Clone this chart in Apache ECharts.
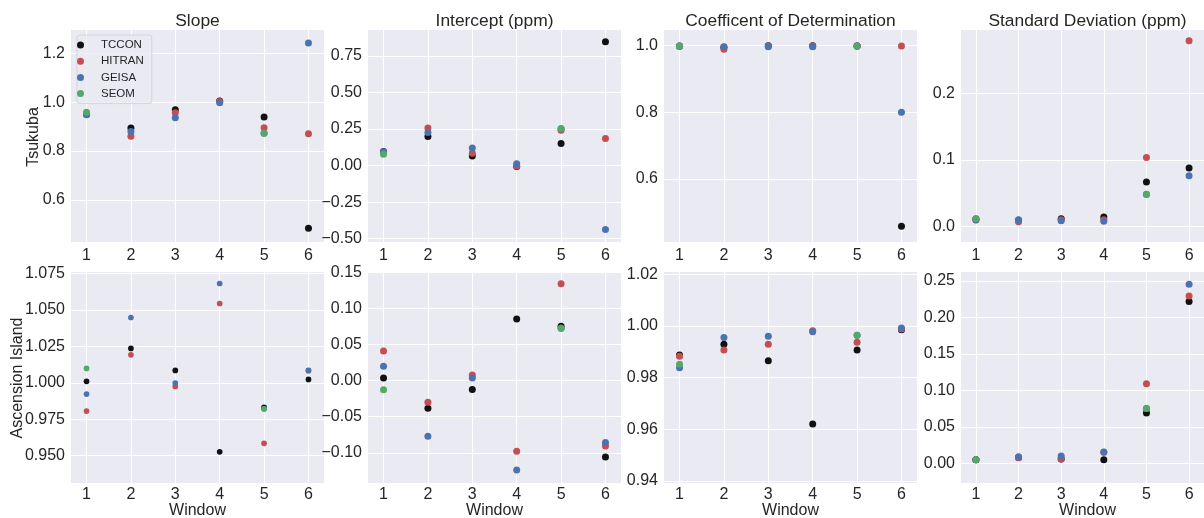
<!DOCTYPE html>
<html><head><meta charset="utf-8">
<script src="https://cdn.jsdelivr.net/npm/echarts@6/dist/echarts.min.js"></script>
<style>html,body{margin:0;padding:0;background:#fff}#c{width:1204px;height:518px}</style>
</head><body><div id="c"></div><script>
const windows = [1, 2, 3, 4, 5, 6];
const seriesNames = ['TCCON', 'HITRAN', 'GEISA', 'SEOM'];
const seriesColors = ['#111111', '#C44E52', '#4C72B0', '#55A868'];
const panelTitles = ['Slope', 'Intercept (ppm)', 'Coefficent of Determination', 'Standard Deviation (ppm)'];
const rowLabels = ['Tsukuba', 'Ascension Island'];
const xAxisLabel = 'Window';

// Tsukuba
const tsuSlopeTCCON  = [0.950, 0.894, 0.969, 1.005, 0.939, 0.484];
const tsuSlopeHITRAN = [0.951, 0.860, 0.957, 1.003, 0.895, 0.871];
const tsuSlopeGEISA  = [0.948, 0.880, 0.936, 0.997, 0.873, 1.242];
const tsuSlopeSEOM   = [0.959, null, null, null, 0.873, null];
const tsuSlopeTicks  = [0.6, 0.8, 1.0, 1.2];

const tsuIntTCCON  = [0.096, 0.199, 0.066, -0.007, 0.151, 0.847];
const tsuIntHITRAN = [0.090, 0.258, 0.085, -0.003, 0.242, 0.185];
const tsuIntGEISA  = [0.095, 0.226, 0.121, 0.012, 0.250, -0.438];
const tsuIntSEOM   = [0.078, null, null, null, 0.253, null];
const tsuIntTicks  = [-0.5, -0.25, 0, 0.25, 0.5, 0.75];

const tsuR2TCCON  = [0.999, 0.995, 1.000, 1.000, 0.999, 0.457];
const tsuR2HITRAN = [0.998, 0.989, 0.999, 0.999, 0.999, 0.999];
const tsuR2GEISA  = [0.998, 0.997, 0.997, 0.997, 0.999, 0.800];
const tsuR2SEOM   = [0.998, null, null, null, 0.998, null];
const tsuR2Ticks  = [0.6, 0.8, 1.0];

const tsuSdTCCON  = [0.011, 0.009, 0.0115, 0.014, 0.0667, 0.0875];
const tsuSdHITRAN = [0.0095, 0.007, 0.010, 0.010, 0.1035, 0.279];
const tsuSdGEISA  = [0.010, 0.010, 0.0085, 0.0075, 0.048, 0.076];
const tsuSdSEOM   = [0.0115, null, null, null, 0.0476, null];
const tsuSdTicks  = [0.0, 0.1, 0.2];

// Ascension Island
const ascSlopeTCCON  = [1.0010, 1.0236, 1.0085, 0.9527, 0.9831, 1.0023];
const ascSlopeHITRAN = [0.9806, 1.0192, 0.9975, 1.0544, 0.9585, 1.0083];
const ascSlopeGEISA  = [0.9923, 1.0448, 0.9998, 1.0681, 0.9822, 1.0085];
const ascSlopeSEOM   = [1.0099, null, null, null, 0.9822, null];
const ascSlopeTicks  = [0.95, 0.975, 1.0, 1.025, 1.05, 1.075];

const ascIntTCCON  = [0.0037, -0.0383, -0.0120, 0.0857, 0.0755, -0.1060];
const ascIntHITRAN = [0.0413, -0.0300, 0.0079, -0.0980, 0.1347, -0.0907];
const ascIntGEISA  = [0.0200, -0.0772, 0.0037, -0.1240, 0.0728, -0.0856];
const ascIntSEOM   = [-0.0125, null, null, null, 0.0728, null];
const ascIntTicks  = [-0.1, -0.05, 0, 0.05, 0.1, 0.15];

const ascR2TCCON  = [0.9888, 0.9929, 0.9865, 0.9620, 0.9907, 0.9985];
const ascR2HITRAN = [0.9883, 0.9907, 0.9929, 0.9982, 0.9937, 0.9988];
const ascR2GEISA  = [0.9838, 0.9955, 0.9960, 0.9978, 0.9964, 0.9992];
const ascR2SEOM   = [0.9852, null, null, null, 0.9964, null];
const ascR2Ticks  = [0.94, 0.96, 0.98, 1.0, 1.02];

const ascSdTCCON  = [0.005, 0.008, 0.006, 0.005, 0.0689, 0.2217];
const ascSdHITRAN = [0.005, 0.0075, 0.006, 0.015, 0.109, 0.2295];
const ascSdGEISA  = [0.005, 0.009, 0.010, 0.0155, 0.0753, 0.2455];
const ascSdSEOM   = [0.005, null, null, null, 0.0753, null];
const ascSdTicks  = [0, 0.05, 0.1, 0.15, 0.2, 0.25];

const FONT = '"Liberation Sans", Arial, sans-serif';
const TXT = '#262626';

const panels = [
  {r:0,c:0,d:[tsuSlopeTCCON,tsuSlopeHITRAN,tsuSlopeGEISA,tsuSlopeSEOM],t:tsuSlopeTicks,min:0.428,max:1.295,dec:1,s:7},
  {r:0,c:1,d:[tsuIntTCCON,tsuIntHITRAN,tsuIntGEISA,tsuIntSEOM],t:tsuIntTicks,min:-0.523,max:0.928,dec:2,s:7},
  {r:0,c:2,d:[tsuR2TCCON,tsuR2HITRAN,tsuR2GEISA,tsuR2SEOM],t:tsuR2Ticks,min:0.41,max:1.047,dec:1,s:7},
  {r:0,c:3,d:[tsuSdTCCON,tsuSdHITRAN,tsuSdGEISA,tsuSdSEOM],t:tsuSdTicks,min:-0.0236,max:0.295,dec:1,s:7},
  {r:1,c:0,d:[ascSlopeTCCON,ascSlopeHITRAN,ascSlopeGEISA,ascSlopeSEOM],t:ascSlopeTicks,min:0.9313,max:1.076,dec:3,s:5.7},
  {r:1,c:1,d:[ascIntTCCON,ascIntHITRAN,ascIntGEISA,ascIntSEOM],t:ascIntTicks,min:-0.142,max:0.151,dec:2,s:7},
  {r:1,c:2,d:[ascR2TCCON,ascR2HITRAN,ascR2GEISA,ascR2SEOM],t:ascR2Ticks,min:0.9392,max:1.0209,dec:2,s:7},
  {r:1,c:3,d:[ascSdTCCON,ascSdHITRAN,ascSdGEISA,ascSdSEOM],t:ascSdTicks,min:-0.027,max:0.2623,dec:2,s:7}
];

const gridLefts = [71, 368, 664, 961];
const gridTops = [30, 272];
const gridHeights = [212, 211];
const gridW = 253;

const grids = [], xAxes = [], yAxes = [], series = [], graphics = [];
panels.forEach((p, i) => {
  grids.push({left: gridLefts[p.c], top: gridTops[p.r], width: gridW, height: gridHeights[p.r],
    show: true, backgroundColor: '#EAEAF2', borderWidth: 0, containLabel: false});
  xAxes.push({type: 'value', gridIndex: i, min: 0.65, max: 6.35,
    axisLine: {show: false}, axisTick: {show: false, customValues: windows},
    axisLabel: {customValues: windows, color: TXT, fontSize: 16, fontFamily: FONT, margin: p.r === 0 ? 6 : 4,
      formatter: v => String(v)},
    splitLine: {show: true, lineStyle: {color: '#ffffff', width: 1}}});
  yAxes.push({type: 'value', gridIndex: i, min: p.min, max: p.max,
    axisLine: {show: false}, axisTick: {show: false, customValues: p.t},
    axisLabel: {customValues: p.t, color: TXT, fontSize: 16, fontFamily: FONT, margin: 6,
      formatter: v => v.toFixed(p.dec).replace('-', '\u2212')},
    splitLine: {show: true, lineStyle: {color: '#ffffff', width: 1}}});
  p.d.forEach((arr, k) => {
    series.push({type: 'scatter', name: seriesNames[k], xAxisIndex: i, yAxisIndex: i,
      symbol: 'circle', symbolSize: p.s, itemStyle: {color: seriesColors[k], opacity: 1},
      emphasis: {disabled: true}, z: 2 + k,
      data: windows.map((w, j) => arr[j] == null ? null : [w, arr[j]]).filter(x => x)});
  });
});

panelTitles.forEach((t, c) => {
  graphics.push({type: 'text', x: gridLefts[c] + gridW / 2, y: 21.5,
    style: {text: t, font: '17.4px ' + FONT, fill: TXT, textAlign: 'center', textVerticalAlign: 'middle'}});
  graphics.push({type: 'text', x: gridLefts[c] + gridW / 2, y: 510.5,
    style: {text: xAxisLabel, font: '16px ' + FONT, fill: TXT, textAlign: 'center', textVerticalAlign: 'middle'}});
});
graphics.push({type: 'text', x: 34, y: 137, rotation: Math.PI / 2,
  style: {text: rowLabels[0], font: '16px ' + FONT, fill: TXT, textAlign: 'center', textVerticalAlign: 'middle'}});
graphics.push({type: 'text', x: 18, y: 378, rotation: Math.PI / 2,
  style: {text: rowLabels[1], font: '16px ' + FONT, fill: TXT, textAlign: 'center', textVerticalAlign: 'middle'}});

const chart = echarts.init(document.getElementById('c'), null, {renderer: 'canvas'});
chart.setOption({
  animation: false,
  backgroundColor: '#ffffff',
  grid: grids, xAxis: xAxes, yAxis: yAxes, series: series,
  graphic: graphics,
  legend: {left: 77, top: 35, orient: 'vertical', data: seriesNames, icon: 'circle',
    itemWidth: 31, itemHeight: 7, itemGap: 2.2, padding: [3, 8, 3, 0], selectedMode: false,
    textStyle: {fontSize: 11.5, color: TXT, fontFamily: FONT, lineHeight: 14},
    backgroundColor: 'rgba(234,234,242,0.8)', borderColor: '#d5d5dc', borderWidth: 1, borderRadius: 3}
});
</script></body></html>
